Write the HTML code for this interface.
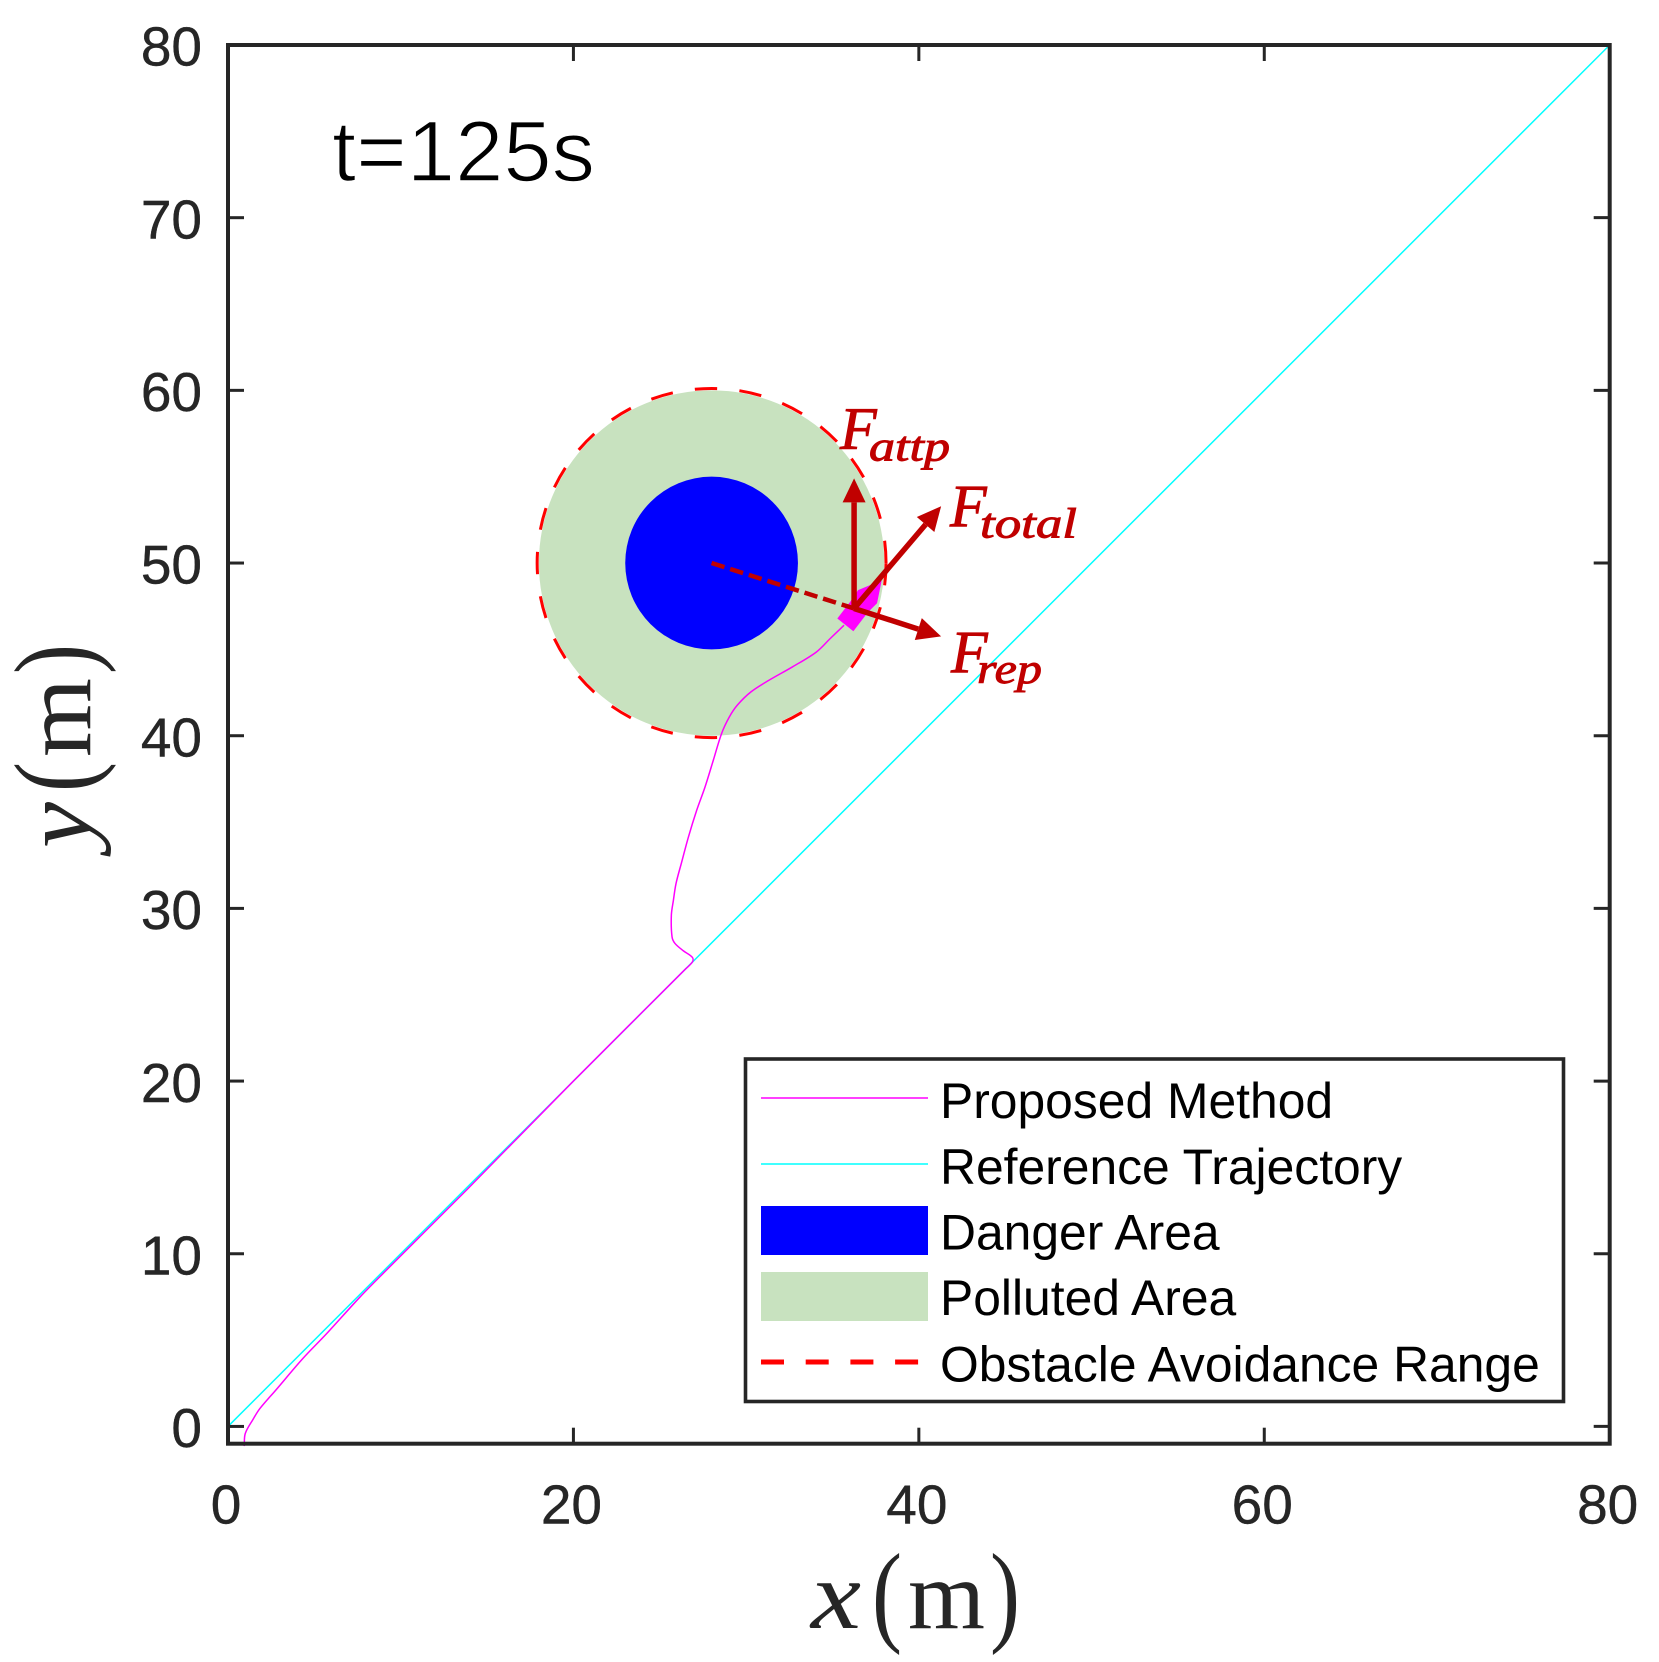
<!DOCTYPE html>
<html lang="en">
<head>
<meta charset="utf-8">
<title>Trajectory chart t=125s</title>
<style>
html,body{margin:0;padding:0;background:#fff;width:1659px;height:1662px;overflow:hidden}
svg{display:block}
text{font-family:"Liberation Sans",Arial,sans-serif}
.tick{font-size:55px;fill:#262626;stroke:#262626;stroke-width:.4px}
.leg{font-size:49.8px;fill:#000}
.ser{font-family:"Liberation Serif",serif;fill:#262626}
.force{font-family:"Liberation Serif",serif;font-style:italic;fill:#c00000;stroke:#c00000;stroke-width:.9px}
</style>
</head>
<body>
<svg id="chart" xmlns="http://www.w3.org/2000/svg" width="1659" height="1662" viewBox="0 0 1659 1662">
  <rect x="0" y="0" width="1659" height="1662" fill="#fff"/>
  <g id="marks"></g>
  <g id="axes"></g>

  <text x="332" y="181" font-size="86" fill="#000" stroke="#fff" stroke-width="1.6" textLength="263" lengthAdjust="spacingAndGlyphs">t=125s</text>

  <g>
    <text class="force" x="840" y="449" font-size="60">F</text>
    <text class="force" x="869" y="460.7" font-size="42" textLength="81" lengthAdjust="spacingAndGlyphs">attp</text>
  </g>
  <g>
    <text class="force" x="950" y="526.7" font-size="60">F</text>
    <text class="force" x="980" y="537.7" font-size="42" textLength="97" lengthAdjust="spacingAndGlyphs">total</text>
  </g>
  <g>
    <text class="force" x="951" y="672.7" font-size="60">F</text>
    <text class="force" x="977" y="683" font-size="42" textLength="65" lengthAdjust="spacingAndGlyphs">rep</text>
  </g>

  <g>
    <text class="ser" x="811" y="1628" font-size="98" font-style="italic" textLength="50" lengthAdjust="spacingAndGlyphs">x</text>
    <text class="ser" x="872" y="1631" font-size="112" textLength="30" lengthAdjust="spacingAndGlyphs">(</text>
    <text class="ser" x="908" y="1628" font-size="98" textLength="77" lengthAdjust="spacingAndGlyphs">m</text>
    <text class="ser" x="990" y="1631" font-size="112" textLength="30" lengthAdjust="spacingAndGlyphs">)</text>
  </g>
  <g>
    <text class="ser" transform="translate(90,848) rotate(-90)" font-size="98" font-style="italic" textLength="46" lengthAdjust="spacingAndGlyphs">y</text>
    <text class="ser" transform="translate(92,792) rotate(-90)" font-size="112" textLength="30" lengthAdjust="spacingAndGlyphs">(</text>
    <text class="ser" transform="translate(90,757) rotate(-90)" font-size="98" textLength="79" lengthAdjust="spacingAndGlyphs">m</text>
    <text class="ser" transform="translate(92,674) rotate(-90)" font-size="112" textLength="30" lengthAdjust="spacingAndGlyphs">)</text>
  </g>

  <g>
    <rect x="745.5" y="1059" width="818" height="342.5" fill="#fff" stroke="#262626" stroke-width="3.6"/>
    <line x1="761" x2="928" y1="1098" y2="1098" stroke="#ff00ff" stroke-width="1.5"/>
    <text class="leg" x="940" y="1118">Proposed Method</text>
    <line x1="761" x2="928" y1="1164" y2="1164" stroke="#00ffff" stroke-width="1.5"/>
    <text class="leg" x="940" y="1184">Reference Trajectory</text>
    <rect x="761" y="1206" width="167" height="49" fill="#0000ff"/>
    <text class="leg" x="940" y="1249.3">Danger Area</text>
    <rect x="761" y="1272" width="167" height="49" fill="#c8e2bf"/>
    <text class="leg" x="940" y="1315">Polluted Area</text>
    <line x1="761" x2="928" y1="1362" y2="1362" stroke="#ff0000" stroke-width="5" stroke-dasharray="23 21.7"/>
    <text class="leg" x="940" y="1381.3">Obstacle Avoidance Range</text>
  </g>
</svg>
<script>
// ---- chart data (data units, metres) ----
const xTickValues = [0, 20, 40, 60, 80];
const yTickValues = [0, 10, 20, 30, 40, 50, 60, 70, 80];
const xTickLabels = ['0', '20', '40', '60', '80'];
const yTickLabels = ['0', '10', '20', '30', '40', '50', '60', '70', '80'];
const xDomain = [0, 80];
const yDomain = [-1, 80];

const referenceX = [0, 80];
const referenceY = [0, 80];

const proposedX = [0.94, 1.0, 1.45, 1.85, 2.8, 4.34, 5.69, 7.62, 8.98, 11.1, 13.9, 20, 26.5, 26.89, 26.89, 26.37, 25.88, 25.71, 25.67, 25.79, 25.94, 26.27, 26.66, 27.14, 27.62, 28.1, 28.58, 29.03, 29.49, 30.28, 31.32, 32.69, 34.07, 34.87, 35.67];
const proposedY = [-1.14, -0.41, 0.41, 1.04, 2.14, 3.94, 5.35, 7.47, 8.86, 10.98, 13.78, 20, 26.5, 26.9, 27.16, 27.54, 27.97, 28.35, 29.61, 30.48, 31.44, 32.69, 34.14, 35.69, 37.03, 38.58, 40.13, 41.09, 41.77, 42.54, 43.21, 43.99, 44.85, 45.63, 46.4];

const obstacleCenterX = 28;
const obstacleCenterY = 50;
const dangerRadius = 5;
const pollutedRadius = 10;
const avoidanceRadius = 10.1;

const vesselX = [35.28, 36.21, 37.05, 37.58, 37.85, 36.48, 36.02];
const vesselY = [46.79, 46.05, 47.15, 47.67, 49.0, 48.43, 47.75];

const forceOriginX = 36.25;
const forceOriginY = 47.37;
const attpTip = [36.25, 54.9];
const totalTip = [41.29, 53.29];
const repTip = [41.29, 45.75];

// ---- axis functions ----
const plotLeft = 228, plotRight = 1609.7, plotTop = 45, plotBottom = 1443.7;
function sx(v) { return plotLeft + (v - xDomain[0]) / (xDomain[1] - xDomain[0]) * (plotRight - plotLeft); }
function sy(v) { return plotBottom - (v - yDomain[0]) / (yDomain[1] - yDomain[0]) * (plotBottom - plotTop); }

const NS = 'http://www.w3.org/2000/svg';
const marks = document.getElementById('marks');
const axes = document.getElementById('axes');
function mk(tag, attrs, parent) {
  const el = document.createElementNS(NS, tag);
  for (const k in attrs) el.setAttribute(k, attrs[k]);
  parent.appendChild(el);
  return el;
}
function pts(xs, ys) { return xs.map(function (x, i) { return sx(x).toFixed(2) + ',' + sy(ys[i]).toFixed(2); }).join(' '); }

// smooth path through the data points (handles limited to a third of each segment)
function smoothPath(xs, ys) {
  const P = xs.map(function (x, i) { return [sx(x), sy(ys[i])]; });
  const T = P.map(function (p, i) {
    const a = P[Math.max(i - 1, 0)], b = P[Math.min(i + 1, P.length - 1)];
    const dx = b[0] - a[0], dy = b[1] - a[1], l = Math.hypot(dx, dy) || 1;
    return [dx / l, dy / l];
  });
  let d = 'M' + P[0][0].toFixed(2) + ' ' + P[0][1].toFixed(2);
  for (let i = 0; i < P.length - 1; i++) {
    const s = Math.hypot(P[i + 1][0] - P[i][0], P[i + 1][1] - P[i][1]) / 3;
    d += ' C' + (P[i][0] + T[i][0] * s).toFixed(2) + ' ' + (P[i][1] + T[i][1] * s).toFixed(2) + ' ' +
      (P[i + 1][0] - T[i + 1][0] * s).toFixed(2) + ' ' + (P[i + 1][1] - T[i + 1][1] * s).toFixed(2) + ' ' +
      P[i + 1][0].toFixed(2) + ' ' + P[i + 1][1].toFixed(2);
  }
  return d;
}

// polluted + danger areas
const pxPerUnit = sx(1) - sx(0);
let el = mk('circle', {cx: sx(obstacleCenterX), cy: sy(obstacleCenterY), r: pollutedRadius * pxPerUnit, fill: '#c8e2bf'}, marks);


el = mk('circle', {cx: sx(obstacleCenterX), cy: sy(obstacleCenterY), r: dangerRadius * pxPerUnit, fill: '#0000ff'}, marks);



// avoidance range dashed circle (starts at angle 0, runs counter-clockwise)
const rr = avoidanceRadius * pxPerUnit;
const ccx = sx(obstacleCenterX), ccy = sy(obstacleCenterY);
const circ = 2 * Math.PI * rr;
const dashLen = 22.4;
const dashPeriod = (circ - dashLen) / 24;
el = mk('path', {
  d: 'M' + (ccx + rr) + ' ' + ccy + ' A' + rr + ' ' + rr + ' 0 1 0 ' + (ccx - rr) + ' ' + ccy + ' A' + rr + ' ' + rr + ' 0 1 0 ' + (ccx + rr) + ' ' + ccy,
  fill: 'none', stroke: '#ff0000', 'stroke-width': 3,
  'stroke-dasharray': dashLen + ' ' + (dashPeriod - dashLen)
}, marks);



// reference trajectory
el = mk('polyline', {points: pts(referenceX, referenceY), fill: 'none', stroke: '#00ffff', 'stroke-width': 1.5}, marks);



// proposed trajectory
el = mk('path', {d: smoothPath(proposedX, proposedY), fill: 'none', stroke: '#ff00ff', 'stroke-width': 1.5, 'stroke-linejoin': 'round'}, marks);



// vessel marker
el = mk('polygon', {points: pts(vesselX, vesselY), fill: '#ff00ff'}, marks);



// dashed line obstacle centre -> vessel
el = mk('line', {x1: sx(obstacleCenterX), y1: sy(obstacleCenterY), x2: sx(forceOriginX), y2: sy(forceOriginY), stroke: '#c00000', 'stroke-width': 4.5, 'stroke-dasharray': '13.5 6'}, marks);



// force arrows
function arrowPoints(tip) {
  const x0 = sx(forceOriginX), y0 = sy(forceOriginY), x1 = sx(tip[0]), y1 = sy(tip[1]);
  const len = Math.hypot(x1 - x0, y1 - y0), ux = (x1 - x0) / len, uy = (y1 - y0) / len;
  const bx = x1 - ux * 24, by = y1 - uy * 24, nx = -uy, ny = ux, hw = 11.5;
  return {x0: x0, y0: y0, bx: bx, by: by,
    head: x1 + ',' + y1 + ' ' + (bx + nx * hw) + ',' + (by + ny * hw) + ' ' + (bx - nx * hw) + ',' + (by - ny * hw)};
}
let a = arrowPoints(attpTip);
el = mk('line', {x1: a.x0, y1: a.y0, x2: a.bx, y2: a.by, stroke: '#c00000', 'stroke-width': 5.5}, marks);


el = mk('polygon', {points: a.head, fill: '#c00000'}, marks);


a = arrowPoints(totalTip);
el = mk('line', {x1: a.x0, y1: a.y0, x2: a.bx, y2: a.by, stroke: '#c00000', 'stroke-width': 5.5}, marks);


el = mk('polygon', {points: a.head, fill: '#c00000'}, marks);


a = arrowPoints(repTip);
el = mk('line', {x1: a.x0, y1: a.y0, x2: a.bx, y2: a.by, stroke: '#c00000', 'stroke-width': 5.5}, marks);


el = mk('polygon', {points: a.head, fill: '#c00000'}, marks);



// axes box
el = mk('rect', {x: plotLeft, y: plotTop, width: plotRight - plotLeft, height: plotBottom - plotTop, fill: 'none', stroke: '#262626', 'stroke-width': 4}, axes);



// ticks
const tickLen = 16;
xTickValues.forEach(function (v, i) {
  const x = sx(v);
  let t = mk('line', {x1: x, x2: x, y1: plotBottom, y2: plotBottom - tickLen, stroke: '#262626', 'stroke-width': 3}, axes);
  
  
  t = mk('line', {x1: x, x2: x, y1: plotTop, y2: plotTop + tickLen, stroke: '#262626', 'stroke-width': 3}, axes);
  
  
  const lab = mk('text', {class: 'tick', x: x - 2, y: 1523.3, 'text-anchor': 'middle'}, axes);
  lab.textContent = xTickLabels[i];
  
  
});
yTickValues.forEach(function (v, i) {
  const y = sy(v);
  let t = mk('line', {x1: plotLeft, x2: plotLeft + tickLen, y1: y, y2: y, stroke: '#262626', 'stroke-width': 3}, axes);
  
  
  t = mk('line', {x1: plotRight, x2: plotRight - tickLen, y1: y, y2: y, stroke: '#262626', 'stroke-width': 3}, axes);
  
  
  const lab = mk('text', {class: 'tick', x: 202, y: y + 20.7, 'text-anchor': 'end'}, axes);
  lab.textContent = yTickLabels[i];
  
  
});
</script>
</body>
</html>
